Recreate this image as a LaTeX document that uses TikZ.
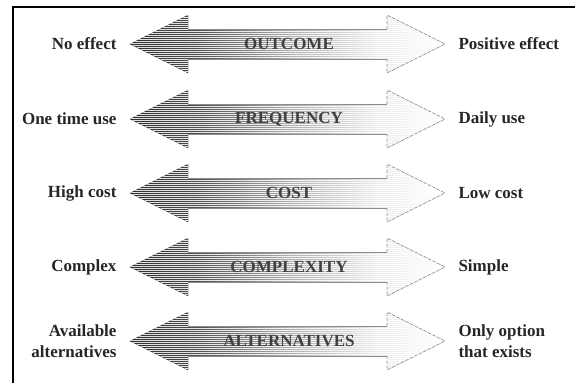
\documentclass[tikz,border=0pt]{standalone}
\usepackage{fontspec}
\setmainfont{Liberation Serif}
\usetikzlibrary{positioning}

% dark at the tip, fading out to white towards the right head
\pgfdeclarehorizontalshading{fadebar}{100bp}{color(0bp)=(black!82); color(25bp)=(black!82);
  color(35bp)=(black!70); color(50bp)=(black!32); color(64bp)=(black!8);
  color(75bp)=(white); color(100bp)=(white)}

\begin{document}
\begin{tikzpicture}[x=1pt,y=-1pt,
    tag/.style={font=\bfseries\fontsize{17}{21}\selectfont, text=black!85},
    dim/.style={font=\bfseries\fontsize{17}{21}\selectfont, text=black!75},
    stripe/.style={white, line width=0.8pt, opacity=0.85},
    edge/.style={black!45, line width=0.6pt},
    tail/.style={edge, dash pattern=on 3pt off 2pt}]
    \useasboundingbox (0,0) rectangle (575,383);
    \draw[line width=1.2pt] (13,383) -- (13,7) -- (575,7);

    \foreach \c/\what/\lo/\hi [count=\i] in {
        44/OUTCOME/No effect/Positive effect,
        119/FREQUENCY/One time use/Daily use,
        193/COST/High cost/Low cost,
        267/COMPLEXITY/Complex/Simple,
        341/ALTERNATIVES/{Available\\alternatives}/{Only option\\that exists}}
    {
        \coordinate (tip\i) at (130,\c);
        \coordinate (end\i) at (445,\c);
        \begin{scope}
            \path[clip] (tip\i) -- ++(58,-29) -- ++(0,14) -- ++(199,0) -- ++(0,-14)
                -- (end\i) -- ++(-58,29) -- ++(0,-14) -- ++(-199,0) -- ++(0,14) -- cycle;
            \fill[shading=fadebar] (130,\c-30) rectangle (445,\c+30);
            \foreach \s in {-29,-27,...,29}
                \draw[stripe] (130,\c+\s) -- (445,\c+\s);
        \end{scope}
        % outline of the shaft and the dashed right head
        \draw[edge] (188,\c-15) -- (387,\c-15);
        \draw[edge] (188,\c+15) -- (387,\c+15);
        \draw[tail] (387,\c-15) -- (387,\c-29) -- (end\i) -- (387,\c+29) -- (387,\c+15);

        \node[dim] (dim\i) at (289,\c) {\what};
        \node[tag, align=right, left=10pt of tip\i] (low\i) {\lo};
        \node[tag, align=left, right=10pt of end\i] (high\i) {\hi};
    }
\end{tikzpicture}
\end{document}
